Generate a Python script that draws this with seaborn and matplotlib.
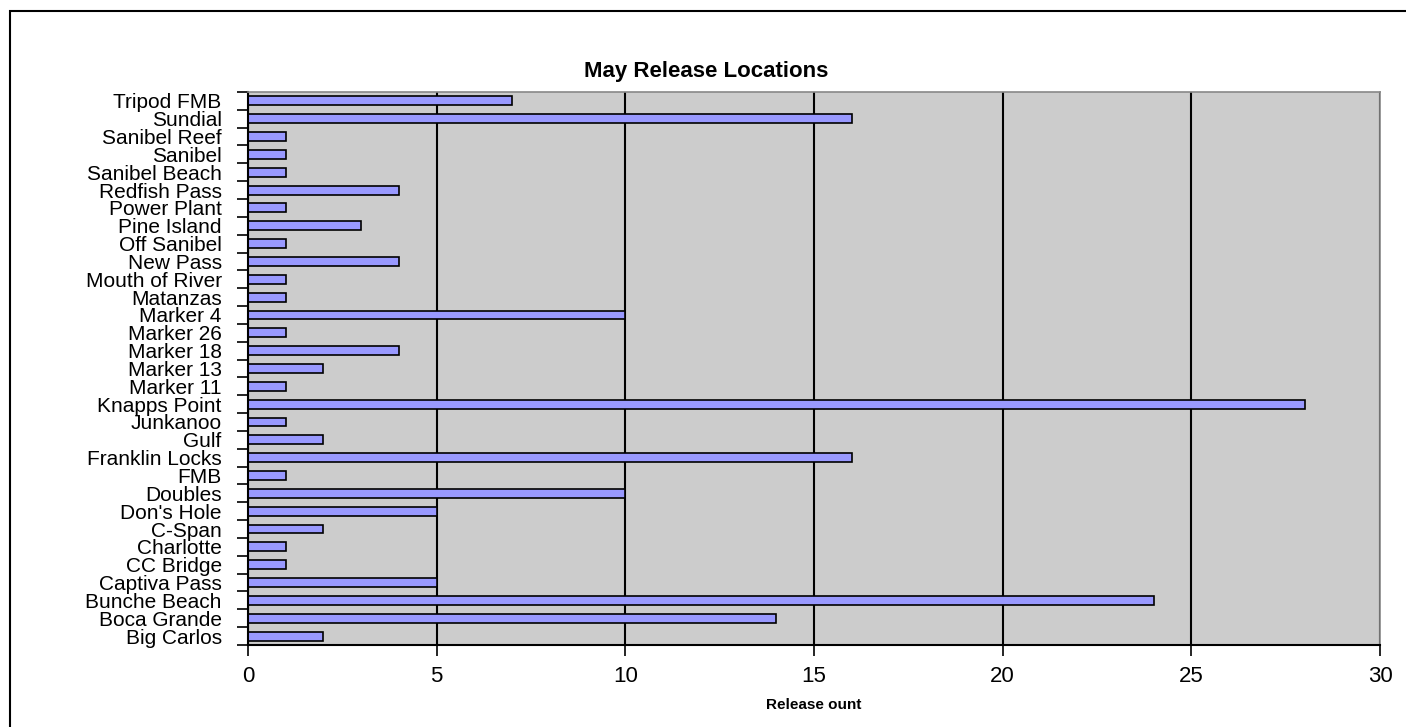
import pandas as pd
import numpy as np
import matplotlib
matplotlib.use("Agg")
import matplotlib.pyplot as plt
import seaborn as sns
from matplotlib.patches import Rectangle

# data, top to bottom as shown in the chart
locations = ['Tripod FMB', 'Sundial', 'Sanibel Reef', 'Sanibel', 'Sanibel Beach',
             'Redfish Pass', 'Power Plant', 'Pine Island', 'Off Sanibel', 'New Pass',
             'Mouth of River', 'Matanzas', 'Marker 4', 'Marker 26', 'Marker 18',
             'Marker 13', 'Marker 11', 'Knapps Point', 'Junkanoo', 'Gulf',
             'Franklin Locks', 'FMB', 'Doubles', "Don's Hole", 'C-Span',
             'Charlotte', 'CC Bridge', 'Captiva Pass', 'Bunche Beach', 'Boca Grande',
             'Big Carlos']
counts = [7, 16, 1, 1, 1,
          4, 1, 3, 1, 4,
          1, 1, 10, 1, 4,
          2, 1, 28, 1, 2,
          16, 1, 10, 5, 2,
          1, 1, 5, 24, 14,
          2]
x_ticks = [0, 5, 10, 15, 20, 25, 30]

df = pd.DataFrame({'location': locations, 'count': counts})

sns.set_style("white")
plt.rcParams['font.family'] = ['Liberation Sans', 'DejaVu Sans']
plt.rcParams['text.color'] = 'black'
plt.rcParams['axes.labelcolor'] = 'black'
plt.rcParams['xtick.color'] = 'black'
plt.rcParams['ytick.color'] = 'black'

fig = plt.figure(figsize=(14.06, 7.27), dpi=100)
ax = fig.add_axes([0.1764, 0.1128, 0.8051, 0.7607])
ax.set_facecolor('#cccccc')

sns.barplot(data=df, x='count', y='location', order=locations, orient='h',
            color='#9999ff', edgecolor='black', linewidth=1.2, width=0.5,
            saturation=1, ax=ax)

ax.set_xlim(0, 30)
ax.set_xticks(x_ticks)
ax.set_xticklabels([str(t) for t in x_ticks], fontsize=16)
ax.xaxis.grid(True, color='black', linewidth=1.5)
ax.set_axisbelow(True)
ax.set_ylim(len(locations) - 0.5, -0.5)

# category labels at centres, tick marks on the boundaries
ax.tick_params(axis='y', which='major', left=True, length=0, labelsize=15, pad=19)
ax.set_yticks(np.arange(-0.5, len(locations) + 0.5, 1), minor=True)
ax.tick_params(axis='y', which='minor', left=True, length=8, width=1.2,
               color='black', direction='out')
ax.tick_params(axis='x', which='major', bottom=True, length=8, width=1.2,
               color='black', direction='out', pad=7)
ax.set_ylabel('')
ax.set_xlabel('Release ount', fontsize=11, fontweight='bold', labelpad=8)

for side in ['left', 'bottom']:
    ax.spines[side].set_color('black')
    ax.spines[side].set_linewidth(1.5)
for side in ['top', 'right']:
    ax.spines[side].set_color('#888888')
    ax.spines[side].set_linewidth(1.2)

fig.text(0.502, 1 - 72 / 727, 'May Release Locations', fontsize=16,
         fontweight='bold', ha='center', va='center')

# outer chart border
fig.patches.append(Rectangle((10 / 1406, -0.05), 1.1, 1 - 11 / 727 + 0.05,
                             transform=fig.transFigure, fill=False,
                             edgecolor='black', linewidth=1.5))

fig.savefig('out.png', dpi=100)
